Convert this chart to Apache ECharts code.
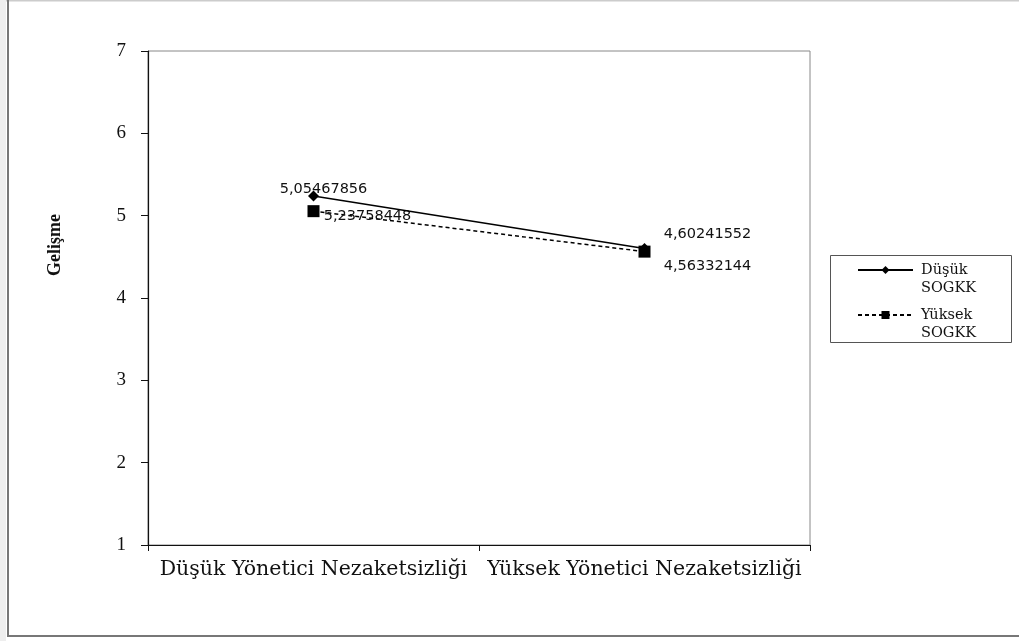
<!DOCTYPE html>
<html>
<head>
    <meta charset="utf-8">
    <title>Gelişme</title>
    <script src="https://cdn.jsdelivr.net/npm/echarts@6/dist/echarts.min.js"></script>
    <style>
        html, body { width: 100%; height: 100%; margin: 0; background: #fff; }
        #main { width: 1019px; height: 641px; }
    </style>
</head>
<body>
    <div id="main"></div>
    <script type="text/javascript">
        // veriler
        var categories = ['Düşük Yönetici Nezaketsizliği', 'Yüksek Yönetici Nezaketsizliği'];
        var seriesNames = ['Düşük\nSOGKK', 'Yüksek\nSOGKK'];
        var dusukValues = [5.23758448, 4.60241552];
        var yuksekValues = [5.05467856, 4.56332144];
        // etiketler resimde yazıldığı gibi
        var dusukLabels = ['5,05467856', '4,60241552'];
        var yuksekLabels = ['5,23758448', '4,56332144'];
        var yTicks = [1, 2, 3, 4, 5, 6, 7];

        var serif = 'Liberation Serif';
        var wideSerif = 'DejaVu Serif';
        var sans = 'DejaVu Sans';

        var dusukOffsets = [[10, -7], [63, -14]];
        var yuksekOffsets = [[54, 5], [63, 15]];

        function makeData(values, labels, offsets) {
            return values.map(function (v, i) {
                return {
                    value: v,
                    label: {
                        show: true,
                        position: 'inside',
                        offset: offsets[i],
                        formatter: labels[i],
                        fontFamily: sans,
                        fontSize: 14.5,
                        color: '#111'
                    }
                };
            });
        }

        var myChart = echarts.init(document.getElementById('main'));

        var option = {
            backgroundColor: '#fff',
            animation: false,
            grid: {
                left: 148, right: 209, top: 51, bottom: 96,
                show: true, borderColor: '#888', borderWidth: 1
            },
            legend: {
                orient: 'vertical',
                left: 857,
                top: 243,
                padding: 0,
                itemGap: -9,
                itemWidth: 55,
                itemHeight: 10,
                data: seriesNames,
                formatter: function (name) {
                    // boş ilk satır: ikon ilk satırla hizalansın
                    return '\n' + name;
                },
                textStyle: {
                    fontFamily: wideSerif,
                    fontSize: 14.5,
                    lineHeight: 18,
                    color: '#111',
                    padding: [0, 0, 0, 3]
                }
            },
            graphic: [
                { type: 'rect', shape: { x: 830.5, y: 255.5, width: 181, height: 87 },
                  style: { fill: 'none', stroke: '#555', lineWidth: 1 }, z: 0 },
                { type: 'line', shape: { x1: 0, y1: 0.5, x2: 1019, y2: 0.5 },
                  style: { stroke: '#ccc', lineWidth: 2 } },
                { type: 'line', shape: { x1: 8, y1: 0, x2: 8, y2: 637 },
                  style: { stroke: '#777', lineWidth: 2 } },
                { type: 'line', shape: { x1: 8, y1: 636, x2: 1019, y2: 636 },
                  style: { stroke: '#777', lineWidth: 2 } },
                { type: 'rect', shape: { x: 0, y: 0, width: 6, height: 641 },
                  style: { fill: '#eee' } }
            ],
            xAxis: {
                type: 'category',
                data: categories,
                boundaryGap: true,
                axisLine: { lineStyle: { color: '#111', width: 1.2 } },
                axisTick: { show: true, interval: 0, length: 6, lineStyle: { color: '#111' } },
                axisLabel: {
                    interval: 0,
                    hideOverlap: false,
                    margin: 14,
                    fontFamily: wideSerif,
                    fontSize: 20.5,
                    color: '#111'
                },
                splitLine: { show: false }
            },
            yAxis: {
                type: 'value',
                min: yTicks[0],
                max: yTicks[yTicks.length - 1],
                interval: 1,
                name: 'Gelişme',
                nameLocation: 'middle',
                nameRotate: 90,
                nameGap: 84,
                nameTextStyle: {
                    fontFamily: serif,
                    fontSize: 18,
                    fontWeight: 'bold',
                    color: '#111',
                    padding: [0, 0, 0, 106]
                },
                axisLine: { show: true, lineStyle: { color: '#111', width: 1.2 } },
                axisTick: { show: true, length: 7, lineStyle: { color: '#111' } },
                axisLabel: {
                    margin: 22,
                    fontFamily: serif,
                    fontSize: 19,
                    color: '#111'
                },
                splitLine: { show: false }
            },
            series: [
                {
                    name: seriesNames[0],
                    type: 'line',
                    data: makeData(dusukValues, dusukLabels, dusukOffsets),
                    symbol: 'diamond',
                    symbolSize: 11,
                    itemStyle: { color: '#000' },
                    lineStyle: { color: '#000', width: 1.5, type: 'solid' },
                    z: 3
                },
                {
                    name: seriesNames[1],
                    type: 'line',
                    data: makeData(yuksekValues, yuksekLabels, yuksekOffsets),
                    symbol: 'rect',
                    symbolSize: 12,
                    itemStyle: { color: '#000' },
                    lineStyle: { color: '#000', width: 1.5, type: [4, 3] },
                    z: 2
                }
            ]
        };

        myChart.setOption(option);
    </script>
</body>
</html>
